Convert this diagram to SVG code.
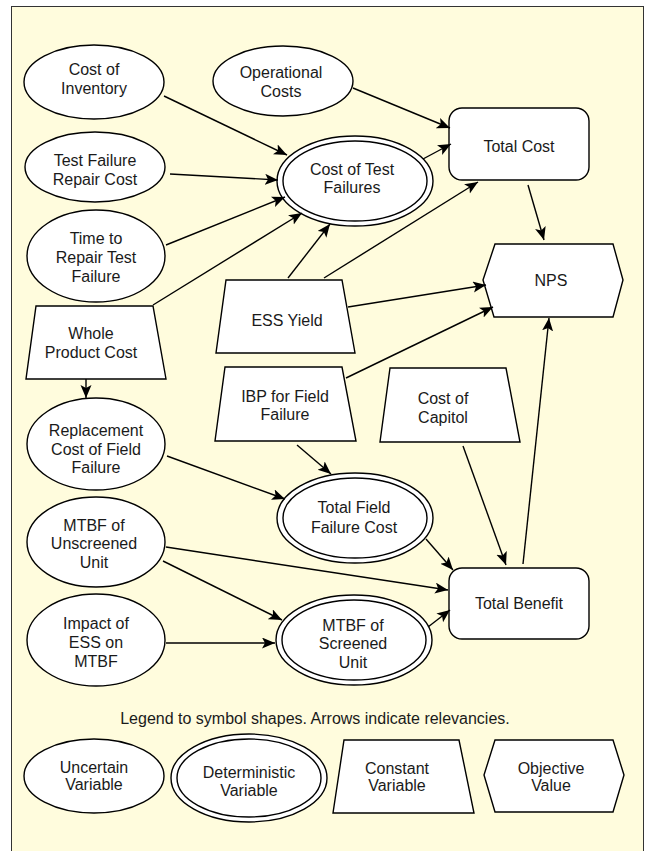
<svg xmlns="http://www.w3.org/2000/svg" width="645" height="851" viewBox="0 0 645 851">
<defs>
<marker id="arr" markerUnits="userSpaceOnUse" markerWidth="14" markerHeight="12" refX="13" refY="5.5" orient="auto" viewBox="0 0 14 12">
<path d="M0,0 L13,5.5 L0,11 L3,5.5 z" fill="#000"/>
</marker>
<style>
.n{fill:#fff;stroke:#000;stroke-width:1.4}
.t{font-family:"Liberation Sans",Arial,sans-serif;font-size:16px;fill:#1a1a1a;text-anchor:middle}
.c line{stroke:#000;stroke-width:1.4;marker-end:url(#arr)}
</style>
</defs>
<rect x="11.5" y="6.5" width="632" height="850" fill="#FFFCDD" stroke="#333" stroke-width="1"/>

<g id="cost-of-inventory"><ellipse class="n" cx="94" cy="82" rx="70" ry="37"/><text class="t" x="94" y="75">Cost of</text><text class="t" x="94" y="94">Inventory</text></g>
<g id="operational-costs"><ellipse class="n" cx="283" cy="81" rx="70" ry="35"/><text class="t" x="281" y="78">Operational</text><text class="t" x="281" y="97">Costs</text></g>
<g id="test-failure-repair-cost"><ellipse class="n" cx="95" cy="167" rx="70" ry="35"/><text class="t" x="95" y="166">Test Failure</text><text class="t" x="95" y="185">Repair Cost</text></g>
<g id="time-to-repair"><ellipse class="n" cx="96" cy="256" rx="69" ry="46"/><text class="t" x="96" y="244">Time to</text><text class="t" x="96" y="263">Repair Test</text><text class="t" x="96" y="282">Failure</text></g>
<g id="cost-of-test-failures"><ellipse class="n" cx="355" cy="181" rx="78" ry="45"/><ellipse class="n" cx="355" cy="181" rx="72" ry="40"/><text class="t" x="352" y="175">Cost of Test</text><text class="t" x="352" y="193">Failures</text></g>
<g id="total-cost"><rect class="n" x="449" y="108" width="140" height="72" rx="13"/><text class="t" x="519" y="152">Total Cost</text></g>
<g id="nps"><polygon class="n" points="495,244 613,244 623,280 613,317 494,317 483,280"/><text class="t" x="551" y="286">NPS</text></g>
<g id="ess-yield"><polygon class="n" points="226,280 342,280 355,353 216,353"/><text class="t" x="287" y="326">ESS Yield</text></g>
<g id="whole-product-cost"><polygon class="n" points="36,306 153,306 166,379 26,379"/><text class="t" x="91" y="339">Whole</text><text class="t" x="91" y="358">Product Cost</text></g>
<g id="ibp-for-field-failure"><polygon class="n" points="225,367 342,367 356,441 215,441"/><text class="t" x="285" y="402">IBP for Field</text><text class="t" x="285" y="420">Failure</text></g>
<g id="cost-of-capitol"><polygon class="n" points="390,368 506,368 520,442 380,442"/><text class="t" x="443" y="404">Cost of</text><text class="t" x="443" y="423">Capitol</text></g>
<g id="replacement-cost"><ellipse class="n" cx="96" cy="444" rx="69" ry="46"/><text class="t" x="96" y="436">Replacement</text><text class="t" x="96" y="455">Cost of Field</text><text class="t" x="96" y="473">Failure</text></g>
<g id="total-field-failure-cost"><ellipse class="n" cx="355" cy="518" rx="78" ry="45"/><ellipse class="n" cx="355" cy="518" rx="72" ry="40"/><text class="t" x="354" y="513">Total Field</text><text class="t" x="354" y="533">Failure Cost</text></g>
<g id="mtbf-unscreened"><ellipse class="n" cx="96" cy="542" rx="69" ry="45"/><text class="t" x="94" y="531">MTBF of</text><text class="t" x="94" y="549">Unscreened</text><text class="t" x="94" y="568">Unit</text></g>
<g id="impact-of-ess"><ellipse class="n" cx="96" cy="640" rx="69" ry="46"/><text class="t" x="96" y="629">Impact of</text><text class="t" x="96" y="648">ESS on</text><text class="t" x="96" y="667">MTBF</text></g>
<g id="mtbf-screened"><ellipse class="n" cx="354" cy="640" rx="78" ry="45"/><ellipse class="n" cx="354" cy="640" rx="72" ry="40"/><text class="t" x="353" y="631">MTBF of</text><text class="t" x="353" y="649">Screened</text><text class="t" x="353" y="668">Unit</text></g>
<g id="total-benefit"><rect class="n" x="449" y="568" width="140" height="71" rx="13"/><text class="t" x="519" y="609">Total Benefit</text></g>

<g id="connectors" class="c">
<line x1="164" y1="96" x2="287" y2="155"/>
<line x1="353" y1="88" x2="450" y2="128"/>
<line x1="170" y1="174" x2="278" y2="180"/>
<line x1="166" y1="245" x2="285" y2="197"/>
<line x1="153" y1="305" x2="302" y2="213"/>
<line x1="288" y1="278" x2="330" y2="224"/>
<line x1="324" y1="278" x2="478" y2="182"/>
<line x1="423" y1="159" x2="451" y2="144"/>
<line x1="528" y1="185" x2="544" y2="240"/>
<line x1="348" y1="307" x2="486" y2="285"/>
<line x1="346" y1="378" x2="493" y2="307"/>
<line x1="86" y1="379" x2="86" y2="398"/>
<line x1="297" y1="445" x2="331" y2="474"/>
<line x1="167" y1="456" x2="285" y2="499"/>
<line x1="463" y1="446" x2="506" y2="565"/>
<line x1="523" y1="564" x2="549" y2="318"/>
<line x1="426" y1="539" x2="453" y2="570"/>
<line x1="166" y1="547" x2="448" y2="590"/>
<line x1="163" y1="561" x2="282" y2="620"/>
<line x1="166" y1="643" x2="275" y2="643"/>
<line x1="428" y1="627" x2="450" y2="610"/>
</g>

<text class="t" x="315" y="724">Legend to symbol shapes. Arrows indicate relevancies.</text>
<g id="legend-uncertain"><ellipse class="n" cx="94" cy="776" rx="70" ry="37"/><text class="t" x="94" y="773">Uncertain</text><text class="t" x="94" y="790">Variable</text></g>
<g id="legend-deterministic"><ellipse class="n" cx="249" cy="778" rx="78" ry="44"/><ellipse class="n" cx="249" cy="778" rx="72" ry="39"/><text class="t" x="249" y="778">Deterministic</text><text class="t" x="249" y="796">Variable</text></g>
<g id="legend-constant"><polygon class="n" points="344,740 459,740 474,813 333,813"/><text class="t" x="397" y="774">Constant</text><text class="t" x="397" y="791">Variable</text></g>
<g id="legend-objective"><polygon class="n" points="495,740 613,740 624,775 613,812 495,812 484,775"/><text class="t" x="551" y="774">Objective</text><text class="t" x="551" y="791">Value</text></g>
</svg>
